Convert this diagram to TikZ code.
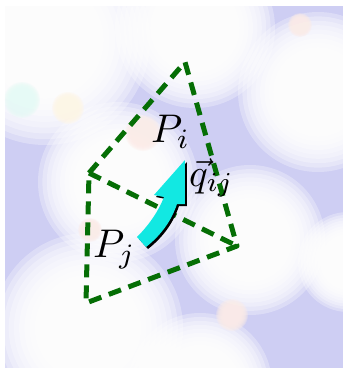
\documentclass[tikz,border=0pt]{standalone}
\usepackage{amsmath}
\usepackage{graphicx}
\usetikzlibrary{positioning}

\definecolor{lavender}{RGB}{206,206,243}
\definecolor{meshgreen}{RGB}{5,110,5}
\definecolor{flowcyan}{RGB}{18,232,226}
\definecolor{tintcyan}{RGB}{230,250,246}
\definecolor{tintyellow}{RGB}{255,246,230}
\definecolor{tintpink}{RGB}{252,236,232}

% soft white spot on the blurred background
\newcommand{\softblob}[3][white]{%
  \foreach \k in {0,...,11}
    \fill[#1, fill opacity=0.3] (#2) circle ({#3*(1-0.055*\k)});}

\begin{document}
\begin{tikzpicture}[x=1pt, y=-1pt,
    mesh/.style={draw=meshgreen, line width=5pt, dash pattern=on 13pt off 8pt, line join=round},
    lbl/.style={inner sep=0pt, anchor=base west}]
  \useasboundingbox (0,0) rectangle (343,368);

  % background
  \begin{scope}
    \clip (5,6) rectangle (343,368);
    \fill[lavender] (5,6) rectangle (343,368);
    \softblob{45,40}{105}
    \softblob{195,28}{80}
    \softblob{318,92}{80}
    \softblob{118,182}{80}
    \softblob{88,328}{95}
    \softblob{250,240}{75}
    \softblob{348,262}{50}
    \softblob{200,385}{72}
    \softblob[tintcyan]{22,100}{18}
    \softblob[tintyellow]{68,108}{16}
    \softblob[tintpink]{143,133}{18}
    \softblob[tintpink]{232,315}{16}
    \softblob[tintpink]{300,25}{12}
    \softblob[tintpink]{90,230}{12}
  \end{scope}

  % cells
  \coordinate (top) at (185,62);
  \coordinate (left) at (89,173);
  \coordinate (right) at (237,246);
  \coordinate (bottom) at (86,303);
  \draw[mesh] (left) -- (top) -- (right) -- (bottom) -- cycle;
  \draw[mesh] (left) -- (right);

  % flux arrow with its shadow
  \foreach \c/\s in {black/2, flowcyan/0}
    \fill[\c, shift={(\s,\s)}] (137,237) .. controls (150,224) and (159,210) .. (164,197)
      -- (154,195) -- (185,160) -- (185,204) -- (177,204)
      .. controls (171,222) and (160,236) .. (146,247) -- cycle;

  \node[lbl] (pi) at (151,142) {\scalebox{4}{$P_i$}};
  \node[lbl] (pj) at (93,257) {\scalebox{4}{$P_j$}};
  \node[lbl] (qij) at (189,186) {\scalebox{3.9}{$\vec{q}_{ij}$}};
\end{tikzpicture}
\end{document}
